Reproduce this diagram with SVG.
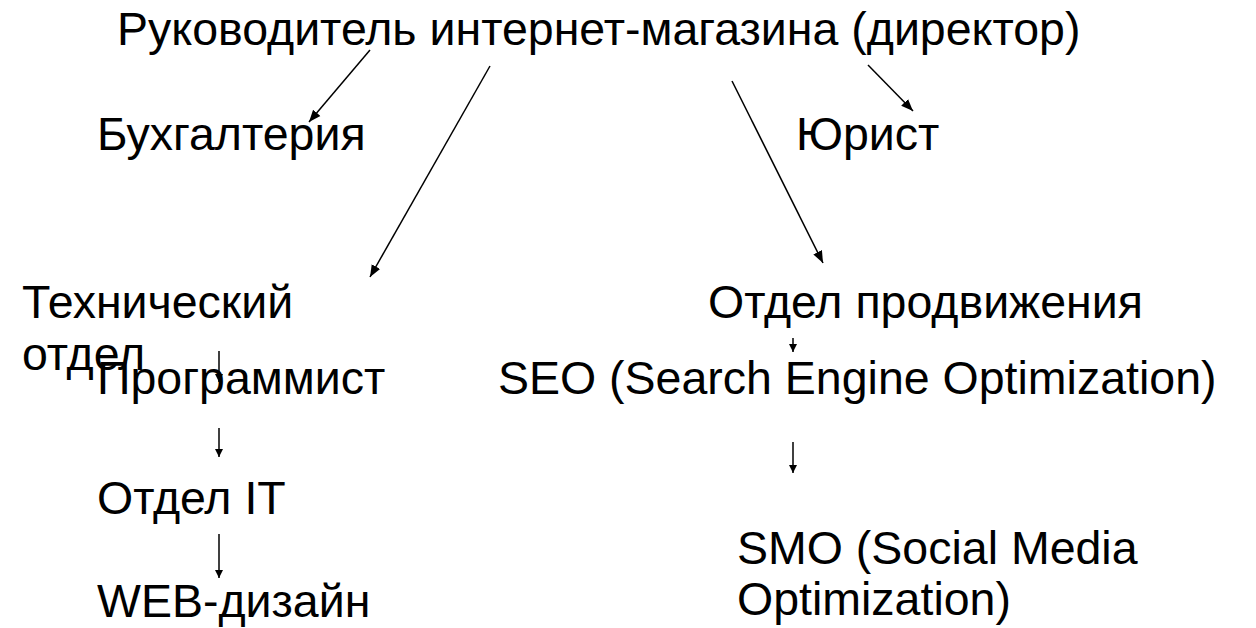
<svg xmlns="http://www.w3.org/2000/svg" width="1256" height="628" viewBox="0 0 1256 628">
<defs>
<style>
text{font-family:"Liberation Sans",Arial,sans-serif;font-size:46.5px;fill:#000}
.c line{stroke:#000;stroke-width:1.5;fill:none}
</style>
<marker id="a" viewBox="0 0 10 10" refX="10" refY="5" markerWidth="8" markerHeight="8" markerUnits="userSpaceOnUse" orient="auto"><path d="M0,0L10,5L0,10z" fill="#000"/></marker>
<marker id="b" viewBox="0 0 10 10" refX="10" refY="5" markerWidth="12" markerHeight="12" markerUnits="userSpaceOnUse" orient="auto"><path d="M0,1L10,5L0,9z" fill="#000"/></marker>
</defs>
<rect width="1256" height="628" fill="#fff"/>
<g id="director"><text x="117" y="45">Руководитель интернет-магазина (директор)</text></g>
<g id="buh"><text x="97" y="150">Бухгалтерия</text></g>
<g id="jurist"><text x="796" y="150">Юрист</text></g>
<g id="tech"><text x="22" y="318">Технический</text><text x="22" y="370">отдел</text></g>
<g id="promo"><text x="708" y="318">Отдел продвижения</text></g>
<g id="prog"><text x="97" y="394">Программист</text></g>
<g id="seo"><text x="498" y="394">SEO (Search Engine Optimization)</text></g>
<g id="it"><text x="97" y="514">Отдел IT</text></g>
<g id="web"><text x="97" y="617">WEB-дизайн</text></g>
<g id="smo"><text x="737" y="564">SMO (Social Media</text><text x="737" y="615">Optimization)</text></g>
<g class="c" id="connectors">
<line x1="370" y1="50" x2="309" y2="122" marker-end="url(#b)"/>
<line x1="490" y1="66" x2="370" y2="277" marker-end="url(#b)"/>
<line x1="732" y1="81" x2="823" y2="263" marker-end="url(#b)"/>
<line x1="868" y1="65" x2="913" y2="111" marker-end="url(#b)"/>
<line x1="219" y1="351" x2="219" y2="382" marker-end="url(#a)"/>
<line x1="219" y1="428" x2="219" y2="457" marker-end="url(#a)"/>
<line x1="219" y1="534" x2="219" y2="578" marker-end="url(#a)"/>
<line x1="793" y1="338" x2="793" y2="352" marker-end="url(#a)"/>
<line x1="793" y1="442" x2="793" y2="473" marker-end="url(#a)"/>
</g>
</svg>
